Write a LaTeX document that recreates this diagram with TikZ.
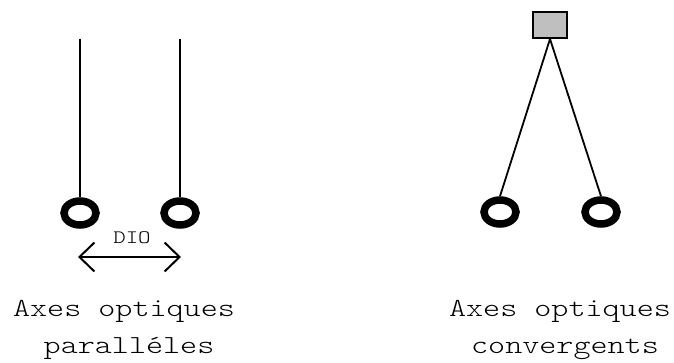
\documentclass[tikz,border=0pt]{standalone}
\usepackage{fontspec}
\newfontfamily\courfont{lmmonolt10-regular.otf}[FakeStretch=1.25]
\usetikzlibrary{arrows.meta,positioning,shapes.geometric}
\tikzset{
  lens/.style={draw,ellipse,line width=7.5pt,minimum width=32pt,minimum height=24pt,inner sep=0pt},
  cam/.style={draw,fill=black!25,line width=2pt,minimum width=34pt,minimum height=26pt,inner sep=0pt},
  axe/.style={line width=1.8pt},
  lbl/.style={font=\courfont\fontsize{26}{28}\selectfont,anchor=base,inner sep=0pt},
  darr/.style={{Straight Barb[length=15pt,width=29pt]}-{Straight Barb[length=15pt,width=29pt]},line width=2pt},
}

\begin{document}
\begin{tikzpicture}[x=1pt,y=-1pt]
\useasboundingbox (0,0) rectangle (674,363);
% parallel axes
\node[lens] (pl1) at (80,213) {};
\node[lens] (pl2) at (180,213) {};
\coordinate (pt1) at (80,39);
\coordinate (pt2) at (180,39);
\draw[axe] (pt1)--(pl1.north); \draw[axe] (pt2)--(pl2.north);
\node[font=\courfont\fontsize{19}{20}\selectfont,inner sep=0pt] (dio) at (132,238) {DIO};
\coordinate (dl) at (78,257);
\coordinate (dr) at (181,257);
\draw[darr] (dl)--(dr);
\node[lbl] (pa1) at (124,316) {Axes optiques};
\node[lbl] (pa2) at (129,353) {paralléles};
% converging axes
\node[cam] (cam) at (550,25) {};
\node[lens] (cl1) at (500,212) {};
\node[lens] (cl2) at (601,212) {};
\draw[axe] (cam.south)--(cl1.north); \draw[axe] (cam.south)--(cl2.north);
\node[lbl] (ca1) at (560,316) {Axes optiques};
\node[lbl] (ca2) at (565,353) {convergents};
\end{tikzpicture}
\end{document}
